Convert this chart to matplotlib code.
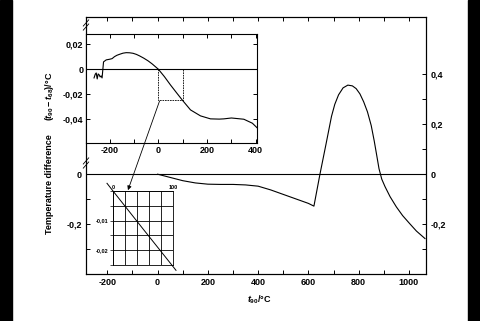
import matplotlib.pyplot as plt
from matplotlib.patches import Rectangle, ConnectionPatch

plt.rcParams['font.family'] = ['Liberation Sans', 'DejaVu Sans']
plt.rcParams['font.weight'] = 'bold'
plt.rcParams['mathtext.fontset'] = 'custom'
plt.rcParams['mathtext.rm'] = 'Liberation Sans:bold'
plt.rcParams['mathtext.it'] = 'Liberation Sans:italic:bold'

# main curve: t90 - t68 over the whole range (degC)
main_t = [0, 50, 100, 150, 200, 250, 300, 350, 400, 450, 500, 550, 600, 622,
          646, 670, 692, 705, 720, 738, 757, 775, 790, 805, 820, 835, 850,
          862, 872, 881, 892, 905, 925, 950, 975, 1003, 1030, 1064]
main_dt = [0, -0.013, -0.026, -0.035, -0.040, -0.041, -0.041, -0.043, -0.048,
           -0.063, -0.081, -0.099, -0.117, -0.128, 0.0, 0.12, 0.232, 0.28,
           0.318, 0.346, 0.357, 0.354, 0.343, 0.322, 0.29, 0.25, 0.195,
           0.133, 0.075, 0.022, -0.02, -0.05, -0.09, -0.131, -0.166,
           -0.198, -0.228, -0.258]

# upper inset: low temperature part, finer scale
inset_t = [-264, -259, -255, -251, -247, -243, -239, -235, -231, -225, -214,
           -200, -190, -180, -170, -159, -145, -132, -118, -104, -90, -77,
           -60, -42, -25, 0, 25, 50, 75, 100, 132, 173, 214, 250, 269, 300,
           351, 386, 405]
inset_dt = [-0.007, -0.004, -0.003, -0.0078, -0.0038, -0.0045, -0.0062,
            -0.0054, -0.007, 0.0059, 0.0075, 0.008, 0.0085, 0.0101, 0.0112,
            0.012, 0.0129, 0.0133, 0.0132, 0.0128, 0.0119, 0.0107, 0.0089,
            0.0067, 0.0042, 0.0, -0.006, -0.0127, -0.019, -0.0252, -0.0327,
            -0.0375, -0.0399, -0.0401, -0.0399, -0.0392, -0.0402, -0.0434,
            -0.0470]

# zoomed window 0..100 degC
box_t = [0, 100]
box_dt = [0, -0.025]
zoom_t = [-10, 0, 50, 98, 105]
zoom_dt = [0.0026, 0, -0.0128, -0.025, -0.0268]

fs = 6.5
lw = 0.8

fig = plt.figure(figsize=(4.8, 3.21), dpi=100)

# black scan borders
fig.patches.append(Rectangle((0, 0), 12/480, 1, transform=fig.transFigure,
                             color='black', zorder=10))
fig.patches.append(Rectangle((468/480, 0), 12/480, 1, transform=fig.transFigure,
                             color='black', zorder=10))

ax = fig.add_axes([86/480, 1-274/321, 340/480, 257/321])
ax.plot(main_t, main_dt, color='black', lw=lw)
ax.axhline(0, color='black', lw=lw)
ax.set_xlim(-285, 1068)
ax.set_ylim(-0.40, 0.63)
ax.set_xticks(range(-200, 1001, 200))
ax.set_xticklabels([str(v) for v in range(-200, 1001, 200)], fontsize=fs)
ax.set_xticks(range(-100, 1001, 200), minor=True)
ax.set_yticks([0, -0.1, -0.2, -0.3])
ax.set_yticklabels(['0', '', '-0,2', ''], fontsize=fs)
ax.tick_params(which='both', direction='in', top=True, right=False,
               length=3, width=0.7, pad=3)
for s in ax.spines.values():
    s.set_linewidth(0.8)

ax2 = ax.twinx()
ax2.set_ylim(-0.40, 0.63)
ax2.set_yticks([-0.3, -0.2, -0.1, 0, 0.1, 0.2, 0.3, 0.4])
ax2.set_yticklabels(['', '-0,2', '', '0', '', '0,2', '', '0,4'], fontsize=fs)
ax2.tick_params(direction='in', length=3, width=0.7, pad=3)

# axis break marks on the left spine
for yb in [(274-25)/257, (274-163)/257]:
    for dy in (-0.008, 0.008):
        ax.plot([-0.008, 0.008], [yb+dy-0.012, yb+dy+0.012],
                transform=ax.transAxes, color='black', lw=0.6, clip_on=False)

# upper inset
ins = fig.add_axes([86/480, 1-143/321, 171/480, 109/321])
ins.set_facecolor('white')
ins.plot(inset_t, inset_dt, color='black', lw=lw)
ins.axhline(0, color='black', lw=lw)
ins.plot([box_t[0], box_t[0], box_t[1], box_t[1]],
         [box_dt[0], box_dt[1], box_dt[1], box_dt[0]],
         color='black', lw=0.6, ls=(0, (2, 1)))
ins.set_xlim(-297, 405)
ins.set_ylim(-0.0593, 0.0283)
ins.set_xticks([-200, 0, 200, 400])
ins.set_xticklabels(['-200', '0', '200', '400'], fontsize=fs)
ins.set_xticks([-100, 100, 300], minor=True)
ins.set_yticks([0.02, 0, -0.02, -0.04])
ins.set_yticklabels(['0,02', '0', '-0,02', '-0,04'], fontsize=fs)
ins.tick_params(which='both', direction='in', top=True, right=True,
                length=3, width=0.7, pad=2)
for s in ins.spines.values():
    s.set_linewidth(0.8)

# lower zoom grid
zg = fig.add_axes([113/480, 1-265/321, 60/480, 74/321])
zg.set_facecolor('none')
zg.plot(zoom_t, zoom_dt, color='black', lw=0.7, clip_on=False)
zg.set_xlim(0, 100)
zg.set_ylim(-0.025, 0)
zg.set_xticks([0, 20, 40, 60, 80, 100])
zg.set_yticks([0, -0.005, -0.01, -0.015, -0.02, -0.025])
zg.xaxis.tick_top()
zg.set_xticklabels(['0', '', '', '', '', '100'], fontsize=4)
zg.set_yticklabels(['', '', '-0,01', '', '-0,02', ''], fontsize=4)
zg.grid(True, color='black', lw=0.6)
zg.tick_params(axis='x', length=0, pad=1)
zg.tick_params(axis='y', length=2, width=0.5, pad=1)
for s in zg.spines.values():
    s.set_linewidth(0.6)

arrow = ConnectionPatch(xyA=(5, -0.0255), coordsA=ins.transData,
                        xyB=(-118, -0.064), coordsB=ax.transData,
                        arrowstyle='-|>', mutation_scale=6, lw=0.6,
                        color='black')
fig.add_artist(arrow)

fig.text(49/480, 1-184/321, 'Temperature difference', rotation=90,
         ha='center', va='center', fontsize=fs)
fig.text(49/480, 1-96/321, r'$(t_{90} - t_{68})$/°C', rotation=90,
         ha='center', va='center', fontsize=fs)
fig.text(259/480, 1-300/321, r'$t_{90}$/°C', ha='center', va='center',
         fontsize=fs)

fig.savefig('out.png', dpi=100, facecolor='white')
